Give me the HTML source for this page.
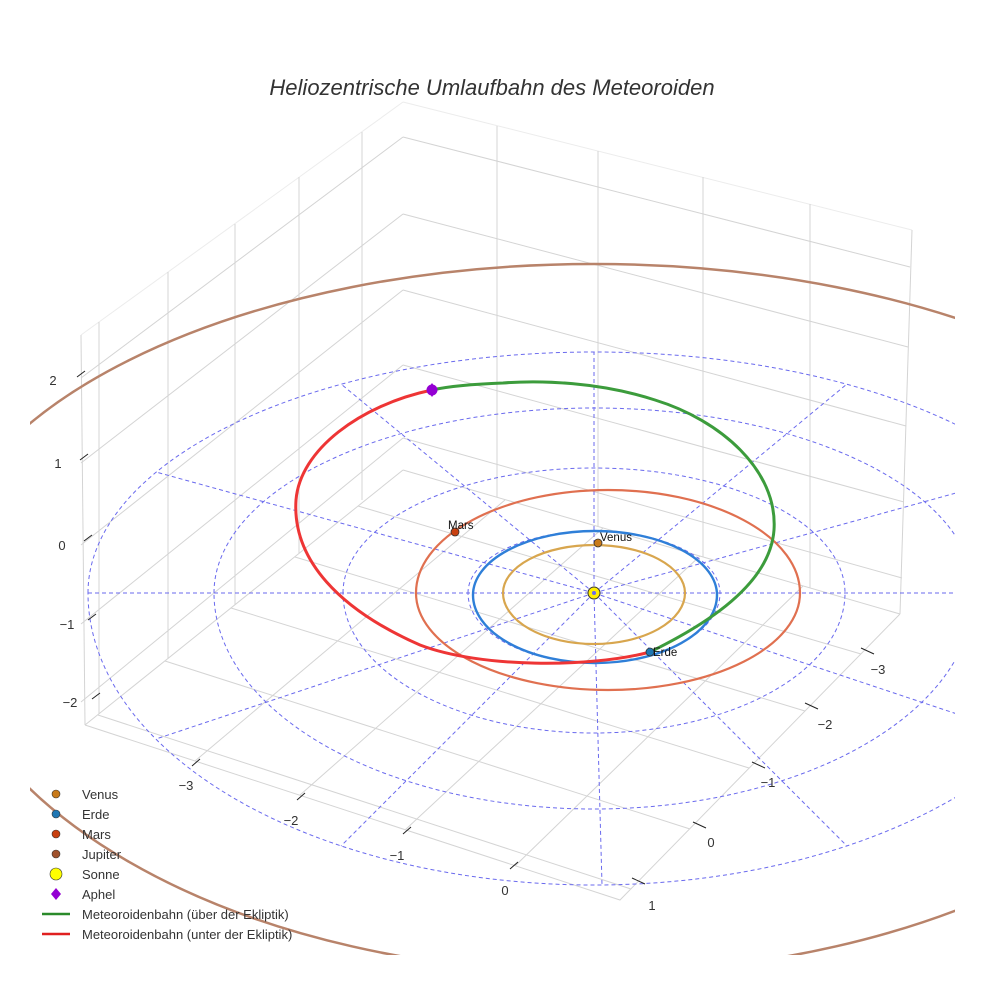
<!DOCTYPE html>
<html><head><meta charset="utf-8"><style>
html,body{margin:0;padding:0;background:#fff;}
svg{display:block;font-family:"Liberation Sans",sans-serif;}
</style></head><body>
<svg width="984" height="984" viewBox="0 0 984 984" xmlns="http://www.w3.org/2000/svg">
<defs><clipPath id="c"><rect x="30" y="0" width="925" height="955"/></clipPath></defs>
<rect width="984" height="984" fill="#fff"/>
<text x="492" y="95" text-anchor="middle" font-size="22" font-style="italic" fill="#333">Heliozentrische Umlaufbahn des Meteoroiden</text>

<g stroke="#d4d4d4" stroke-width="1" fill="none">
<!-- left wall -->
<path d="M81,335 L403,102 M403,102 L912,230" stroke="#ececec"/>
<path d="M81,335 L85,725 M99,322 L99,714 M168,272 L168,658 M235,224 L235,605 M299,177 L299,553 M362,132 L362,500"/>
<path d="M81,378 L403,137 M81,463 L403,214 M81,545 L403,290 M81,624 L403,365 M81,702 L403,438"/>
<!-- right wall -->
<path d="M497,126 L497,497 M598,151 L598,526 M703,177 L703,557 M810,204 L810,588 M912,230 L900,614" />
<path d="M403,137 L910,267 M403,214 L908,347 M403,290 L906,426 M403,365 L904,502 M403,438 L902,578"/>
<!-- floor -->
<path d="M85,725 L620,900 L900,614 M403,470 L85,725 M403,470 L900,614"/>
<path d="M195,761 L505,500 M300,795 L603,528 M405,830 L700,556 M515,866 L803,586"/>
<path d="M631,889 L98,715 M690,829 L165,661 M749,768 L231,608 M805,711 L295,557 M861,654 L358,506"/>
</g>

<g clip-path="url(#c)">
<g stroke="#6a6aee" stroke-width="1" fill="none" stroke-dasharray="4,3">
<path d="M468,593 A126 62 0 0 1 720,593 A126 70 0 0 1 468,593"/>
<path d="M343,593 A251 125 0 0 1 845,593 A251 140 0 0 1 343,593"/>
<path d="M214,593 A380 185 0 0 1 974,593 A380 216 0 0 1 214,593"/>
<path d="M88,593 A506 241 0 0 1 1100,593 A506 292 0 0 1 88,593"/>
<path d="M88,593 L1100,593 M594,593 L1032,472 M594,593 L847,384 M594,593 L594,352 M594,593 L341,384 M594,593 L156,472 M594,593 L156,739 M594,593 L341,846 M594,593 L602,885 M594,593 L847,846 M594,593 L1032,739"/>
</g>
<!-- Jupiter -->
<path d="M-64,593 A658 329 0 0 1 1252,593 A658 380 0 0 1 -64,593" fill="none" stroke="#b8836a" stroke-width="2.5"/>
</g>

<!-- planet orbits -->
<path d="M503,593 A91 48 0 0 1 685,593 A91 51 0 0 1 503,593" fill="none" stroke="#d8a64e" stroke-width="2.2"/>
<path d="M473,595 A122 64 0 0 1 717,595 A122 68 0 0 1 473,595" fill="none" stroke="#2f7fd8" stroke-width="2.4"/>
<path d="M416,593 A192 103 0 0 1 800,593 A192 97 0 0 1 416,593" fill="none" stroke="#e07050" stroke-width="2.2"/>

<!-- meteoroid -->
<path d="M650,652 C705,625 770,585 774,530 C778,470 720,420 655,400 C600,382 540,380 503,383 C475,384 450,386 432,390" fill="none" stroke="#3c9c3c" stroke-width="3"/>
<path d="M432,390 C360,405 300,450 296,500 C292,560 340,610 420,645 C480,668 590,668 650,652" fill="none" stroke="#ee3535" stroke-width="3"/>

<!-- markers -->
<circle cx="594" cy="593" r="6" fill="#ffee00" stroke="#333" stroke-width="1"/>
<circle cx="594" cy="593" r="2" fill="#6a6aee"/>
<circle cx="598" cy="543" r="4" fill="#c87a1a" stroke="#333" stroke-width="0.8"/>
<circle cx="455" cy="532" r="4" fill="#c84010" stroke="#333" stroke-width="0.8"/>
<circle cx="650" cy="652" r="4" fill="#1f77b4" stroke="#333" stroke-width="0.8"/>
<circle cx="432" cy="390" r="5.5" fill="#9400d3"/>
<path d="M432,383 L437,390 L432,397 L427,390 Z" fill="#9400d3"/>
<g font-size="11.5" fill="#111">
<text x="600" y="541">Venus</text>
<text x="448" y="529">Mars</text>
<text x="653" y="656">Erde</text>
</g>

<!-- ticks -->
<g stroke="#222" stroke-width="1">
<path d="M77,377 L85,371 M80,460 L88,454 M84,541 L92,535 M88,620 L96,614 M92,699 L100,693"/>
<path d="M192,766 L200,759 M297,800 L305,793 M403,834 L411,827 M510,869 L518,862"/>
<path d="M861,648 L874,654 M805,703 L818,709 M752,762 L765,768 M693,822 L706,828 M632,878 L645,884"/>
</g>
<g font-size="13" fill="#333" text-anchor="middle">
<text x="53" y="385">2</text><text x="58" y="468">1</text><text x="62" y="550">0</text><text x="67" y="629">−1</text><text x="70" y="707">−2</text>
<text x="186" y="790">−3</text><text x="291" y="825">−2</text><text x="397" y="860">−1</text><text x="505" y="895">0</text>
<text x="878" y="674">−3</text><text x="825" y="729">−2</text><text x="768" y="787">−1</text><text x="711" y="847">0</text><text x="652" y="910">1</text>
</g>

<!-- legend -->
<g font-size="13" fill="#333">
<circle cx="56" cy="794" r="4" fill="#c87a1a" stroke="#333" stroke-width="0.6"/><text x="82" y="799">Venus</text>
<circle cx="56" cy="814" r="4" fill="#1f77b4" stroke="#333" stroke-width="0.6"/><text x="82" y="819">Erde</text>
<circle cx="56" cy="834" r="4" fill="#c84010" stroke="#333" stroke-width="0.6"/><text x="82" y="839">Mars</text>
<circle cx="56" cy="854" r="4" fill="#a0522d" stroke="#333" stroke-width="0.6"/><text x="82" y="859">Jupiter</text>
<circle cx="56" cy="874" r="6" fill="#ffff00" stroke="#333" stroke-width="0.6"/><text x="82" y="879">Sonne</text>
<path d="M56,888 L61,894 L56,900 L51,894 Z" fill="#9400d3"/><text x="82" y="899">Aphel</text>
<line x1="42" y1="914" x2="70" y2="914" stroke="#2a8a2a" stroke-width="2.5"/><text x="82" y="919">Meteoroidenbahn (über der Ekliptik)</text>
<line x1="42" y1="934" x2="70" y2="934" stroke="#e02020" stroke-width="2.5"/><text x="82" y="939">Meteoroidenbahn (unter der Ekliptik)</text>
</g>
</svg>
</body></html>
